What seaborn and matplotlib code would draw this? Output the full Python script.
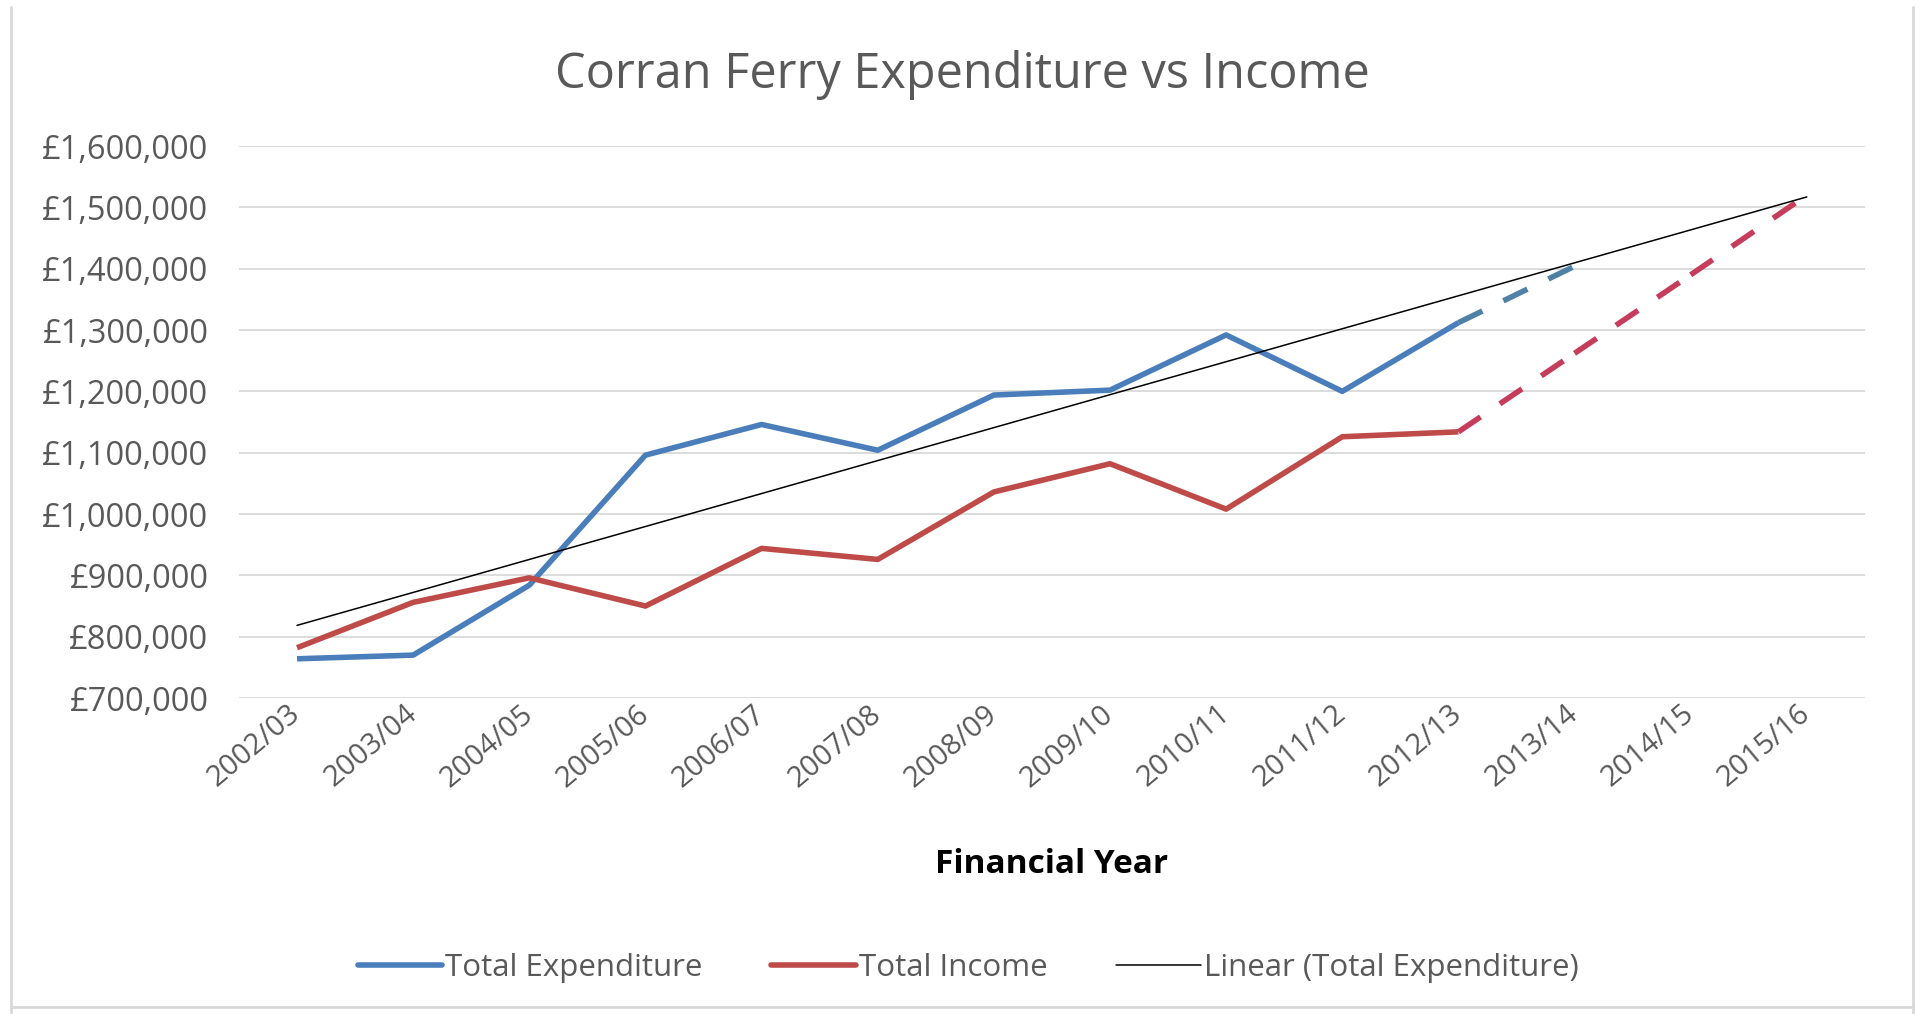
import numpy as np
import pandas as pd
import matplotlib
matplotlib.use("Agg")
import matplotlib.pyplot as plt
from matplotlib.lines import Line2D
from matplotlib.ticker import FuncFormatter
import seaborn as sns

# financial years on the x axis
years = ["2002/03", "2003/04", "2004/05", "2005/06", "2006/07", "2007/08", "2008/09",
         "2009/10", "2010/11", "2011/12", "2012/13", "2013/14", "2014/15", "2015/16"]

# actual figures 2002/03 - 2012/13
expenditure = [764000, 770000, 884000, 1096000, 1146000, 1104000, 1194000,
               1202000, 1292000, 1200000, 1312000]
income = [782000, 856000, 896000, 850000, 944000, 926000, 1036000,
          1082000, 1008000, 1126000, 1134000]

# projections (dashed)
exp_proj_years = ["2012/13", "2013/14"]
exp_proj = [1312000, 1404000]
inc_proj_years = ["2012/13", "2013/14", "2014/15", "2015/16"]
inc_proj = [1134000, 1262000, 1390000, 1520000]

BLUE = "#4a7ebb"
RED = "#be4b48"
BLUE_D = "#4f80a6"
RED_D = "#c63d5c"
TXT = "#595959"
GRID = "#d9d9d9"

sns.set_style("white")
plt.rcParams["font.family"] = ["Open Sans", "DejaVu Sans"]

pos = {y: i for i, y in enumerate(years)}

df = pd.DataFrame({
    "Year": years[:len(expenditure)],
    "Expenditure": expenditure,
    "Income": income,
})
df["x"] = df["Year"].map(pos)

fig = plt.figure(figsize=(19.21, 10.14), dpi=100)
ax = fig.add_axes([0.1244, 0.3116, 0.9708 - 0.1244, 0.856 - 0.3116])

sns.lineplot(data=df, x="x", y="Expenditure", color=BLUE, lw=4, ax=ax,
             solid_capstyle="butt")
sns.lineplot(data=df, x="x", y="Income", color=RED, lw=4, ax=ax,
             solid_capstyle="butt")

# dashed projection segments, pattern restarts at every point like Excel
for yrs, vals, col in [(exp_proj_years, exp_proj, BLUE_D), (inc_proj_years, inc_proj, RED_D)]:
    xs = [pos[y] for y in yrs]
    for i in range(len(xs) - 1):
        ax.plot(xs[i:i + 2], vals[i:i + 2], color=col, lw=4,
                linestyle=(0, (4.8, 4.2)), dash_capstyle="butt")

# linear trend of total expenditure (incl. projected year), forecast to 2015/16
fit_x = list(df["x"]) + [pos[exp_proj_years[-1]]]
fit_y = expenditure + [exp_proj[-1]]
coef = np.polyfit(fit_x, fit_y, 1)
trend_x = np.arange(len(years))
sns.lineplot(x=trend_x, y=np.polyval(coef, trend_x), color="black", lw=1.1, ax=ax)

ax.set_xlim(-0.5, len(years) - 0.5)
ax.set_ylim(700000, 1600000)
ax.set_yticks(np.arange(700000, 1600001, 100000))
ax.yaxis.set_major_formatter(FuncFormatter(lambda v, _: f"£{v:,.0f}"))
ax.set_xticks(trend_x)
ax.set_xticklabels(years, rotation=40, ha="right", va="center", rotation_mode="anchor")

ax.grid(axis="y", color=GRID, lw=1.3)
ax.set_axisbelow(True)
for s in ax.spines.values():
    s.set_visible(False)
ax.tick_params(axis="y", length=0, pad=22, labelsize=23.5, labelcolor=TXT)
ax.tick_params(axis="x", length=0, pad=9, labelsize=21, labelcolor=TXT)

ax.set_xlabel("Financial Year", fontsize=24, fontweight="bold", color="black")
ax.xaxis.set_label_coords(0.5, -0.272)
ax.set_ylabel("")

fig.text(0.501, 0.926, "Corran Ferry Expenditure vs Income", ha="center", va="center",
         fontsize=35, color=TXT)

handles = [
    Line2D([], [], color=BLUE, lw=4),
    Line2D([], [], color=RED, lw=4),
    Line2D([], [], color="black", lw=1.1),
]
fig.legend(handles, ["Total Expenditure", "Total Income", "Linear (Total Expenditure)"],
           loc="center", bbox_to_anchor=(0.504, 0.045), ncol=3, frameon=False,
           fontsize=22.5, labelcolor=TXT, handlelength=2.7, handletextpad=0.1,
           columnspacing=2.2)

# chart area border
for xs_, ys_ in [([0.0055, 0.0055], [0.0, 0.993]), ([0.9958, 0.9958], [0.0, 0.993]),
                 ([0.0055, 0.9958], [0.0069, 0.0069])]:
    fig.add_artist(Line2D(xs_, ys_, transform=fig.transFigure, color=GRID, lw=2))

fig.savefig("out.png", dpi=100, facecolor="white")
